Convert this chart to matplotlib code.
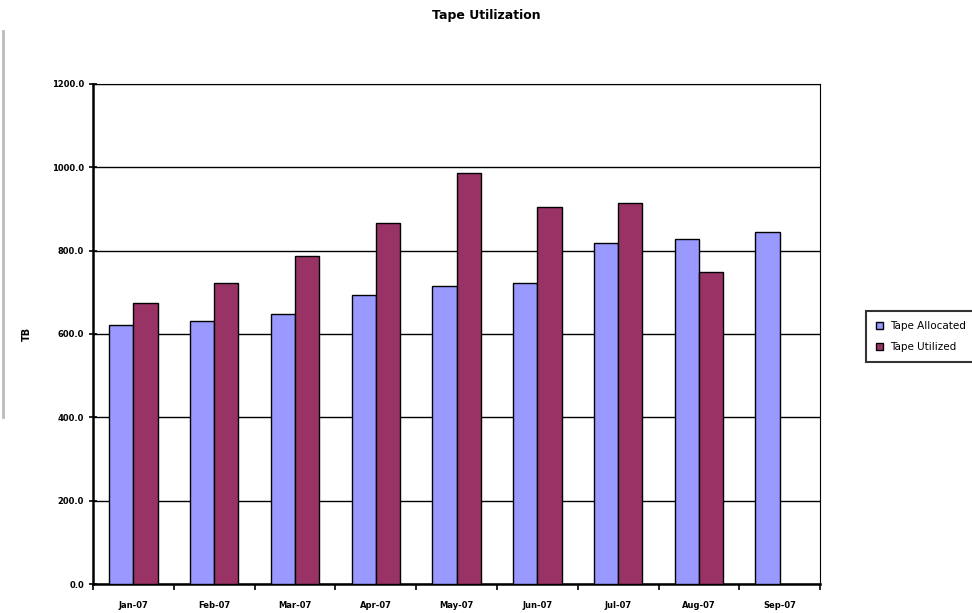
import matplotlib.pyplot as plt
import numpy as np

# Monthly tape usage (TB)
months = ['Jan-07', 'Feb-07', 'Mar-07', 'Apr-07', 'May-07', 'Jun-07', 'Jul-07', 'Aug-07', 'Sep-07']
allocated = [622, 631, 648, 694, 715, 722, 818, 828, 845]
utilized = [674, 722, 787, 866, 986, 905, 914, 749, np.nan]
y_ticks = [0, 200, 400, 600, 800, 1000, 1200]

fig = plt.figure(figsize=(9.72, 6.13), dpi=100)
ax = fig.add_axes([0.0957, 0.0473, 0.748, 0.8157])

x = np.arange(len(months))
w = 0.3
ax.bar(x - w / 2, allocated, w, color='#9999FF', edgecolor='black', linewidth=1.0,
       label='Tape Allocated', zorder=3)
ax.bar(x + w / 2, utilized, w, color='#993366', edgecolor='black', linewidth=1.0,
       label='Tape Utilized', zorder=3)

ax.set_xlim(-0.5, len(months) - 0.5)
ax.set_ylim(0, 1200)
ax.set_yticks(y_ticks)
ax.set_yticklabels([f'{v:.1f}' for v in y_ticks], fontsize=6, fontweight='bold')
ax.yaxis.grid(True, color='black', linewidth=1.0, zorder=0)

# category labels centred, tick marks between groups
ax.set_xticks(x)
ax.set_xticklabels(months, fontsize=6, fontweight='bold')
ax.tick_params(axis='x', length=0, pad=12)
ax.set_xticks(np.arange(len(months) + 1) - 0.5, minor=True)
ax.tick_params(axis='x', which='minor', length=4, width=1.2, direction='out')
ax.tick_params(axis='y', length=6, width=1.2, direction='inout')

for side in ['left', 'bottom']:
    ax.spines[side].set_linewidth(1.8)
for side in ['top', 'right']:
    ax.spines[side].set_linewidth(0.8)

ax.set_ylabel('TB', fontsize=7, fontweight='bold', labelpad=14)
fig.suptitle('Tape Utilization', x=0.5, y=0.985, fontsize=9, fontweight='bold')

# faint grey line along the left edge, as in the original screenshot
fig.add_artist(plt.Line2D([0.003, 0.003], [0.32, 0.95], color='#bbbbbb', linewidth=2))

leg = fig.legend(loc='center left', bbox_to_anchor=(0.886, 0.451), fontsize=7.5,
                 frameon=True, fancybox=False, handlelength=0.7, handleheight=0.7,
                 borderpad=0.9, labelspacing=1.1, handletextpad=0.7)
leg.get_frame().set_edgecolor('black')
leg.get_frame().set_linewidth(1.5)

fig.savefig('out.png', dpi=100)
